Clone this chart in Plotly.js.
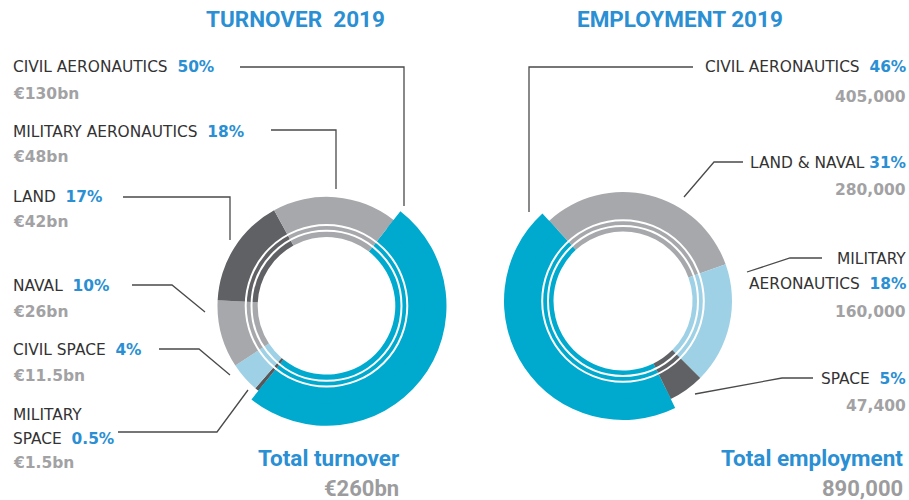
<!DOCTYPE html>
<html><head><meta charset="utf-8">
<script src="https://cdn.plot.ly/plotly-3.0.1.min.js"></script>
<style>html,body{margin:0;padding:0;background:#fff;} #chart{width:909px;height:500px;}</style>
</head><body><div id="chart"></div>
<script>
// ---------------- data ----------------
const chartTitles = ['TURNOVER\u00a0\u00a02019', 'EMPLOYMENT 2019'];

const turnoverCategories = ['CIVIL AERONAUTICS', 'MILITARY SPACE', 'CIVIL SPACE', 'NAVAL', 'LAND', 'MILITARY AERONAUTICS'];
const turnoverValues = [130, 1.5, 11.5, 26, 42, 48];               // € bn
const turnoverShares = ['50%', '0.5%', '4%', '10%', '17%', '18%'];
const turnoverValueLabels = ['€130bn', '€1.5bn', '€11.5bn', '€26bn', '€42bn', '€48bn'];
const turnoverTotalLabel = 'Total turnover';
const turnoverTotal = '€260bn';

const employmentCategories = ['CIVIL AERONAUTICS', 'LAND & NAVAL', 'MILITARY AERONAUTICS', 'SPACE'];
const employmentValues = [405000, 280000, 160000, 47400];
const employmentShares = ['46%', '31%', '18%', '5%'];
const employmentValueLabels = ['405,000', '280,000', '160,000', '47,400'];
const employmentTotalLabel = 'Total employment';
const employmentTotal = '890,000';

// ---------------- styles ----------------
const BLUE = 'rgb(0,169,206)', GRAY = 'rgb(167,168,171)', DARK = 'rgb(96,97,100)',
      LIGHTBLUE = 'rgb(158,209,229)', DARKER = 'rgb(88,88,90)';
const turnoverColors = [BLUE, DARKER, LIGHTBLUE, GRAY, DARK, GRAY];
const employmentColors = [BLUE, GRAY, LIGHTBLUE, DARK];
const TXT = '#333333', PCT = '#2a8fd3', VAL = '#a2a2a4';
const LABEL_FONT = 'DejaVu Sans, sans-serif';
const TITLE_FONT = 'Roboto, sans-serif';

const W = 909, H = 500;
const px = x => x / W, py = y => 1 - y / H;
function dom(cx, cy, r) { return {x: [px(cx - r), px(cx + r)], y: [py(cy + r), py(cy - r)]}; }

const geo = [
  {cx: 326.5, cy: 305.8, rOut: 109, rIn: 68.8, rHi: 120, rot: 38},
  {cx: 623, cy: 301, rOut: 109, rIn: 69.5, rHi: 119, rot: 154}
];
const ringRadii = [75, 80.8];

function pies(cats, vals, cols, g) {
  const base = {
    type: 'pie', labels: cats, values: vals, sort: false, direction: 'clockwise',
    rotation: g.rot, hole: g.rIn / g.rOut, domain: dom(g.cx, g.cy, g.rOut),
    marker: {colors: cols, line: {width: 0}}, textinfo: 'none', hoverinfo: 'label+value', showlegend: false
  };
  const hi = {
    type: 'pie', labels: cats, values: vals, sort: false, direction: 'clockwise',
    rotation: g.rot, hole: 98 / g.rHi, domain: dom(g.cx, g.cy, g.rHi),
    marker: {colors: cols.map((c, i) => i === 0 ? c : 'rgba(0,0,0,0)'), line: {width: 0}},
    textinfo: 'none', hoverinfo: 'skip', showlegend: false
  };
  return [base, hi];
}

const data = [
  ...pies(turnoverCategories, turnoverValues, turnoverColors, geo[0]),
  ...pies(employmentCategories, employmentValues, employmentColors, geo[1])
];

// ---------------- shapes: white rings & leader lines ----------------
const shapes = [];
geo.forEach(g => ringRadii.forEach(rr => shapes.push({
  type: 'circle', xref: 'paper', yref: 'paper',
  x0: px(g.cx - rr), x1: px(g.cx + rr), y0: py(g.cy + rr), y1: py(g.cy - rr),
  line: {color: '#ffffff', width: 2}, fillcolor: 'rgba(0,0,0,0)'
})));

const leaders = [
  [[240, 67], [404, 67], [404, 206]],
  [[271, 130], [336, 130], [336, 189]],
  [[123, 197], [230, 197], [230, 240]],
  [[132, 285], [172, 285], [205, 312]],
  [[159, 349], [199, 349], [230, 375]],
  [[118, 432], [217, 432], [248, 390]],
  [[693, 67], [529, 67], [529, 212]],
  [[743, 162], [714, 162], [684, 197]],
  [[822, 258], [790, 258], [747, 272]],
  [[813, 378], [782, 378], [695, 394]]
];
leaders.forEach(pts => shapes.push({
  type: 'path', xref: 'paper', yref: 'paper',
  path: pts.map((p, i) => (i ? 'L' : 'M') + px(p[0]) + ',' + py(p[1])).join(' '),
  line: {color: '#4a4a4a', width: 1.3}
}));

// ---------------- annotations ----------------
const annotations = [];
function ann(text, x, y, anchor, font) {
  annotations.push({text, x: px(x), y: py(y), xref: 'paper', yref: 'paper', xanchor: anchor,
    yanchor: 'middle', showarrow: false, font, borderpad: 0});
}
const labFont = {family: LABEL_FONT, size: 15.4, color: TXT};
const valFont = {family: LABEL_FONT, size: 15.5, color: VAL};
const pctHTML = s => '<span style="color:' + PCT + '"><b>' + s + '</b></span>';
const NB2 = '\u00a0\u00a0', NB1 = '\u00a0';

function labelBlock(cats, shares, valLabels, pos, x, anchor) {
  pos.forEach(p => {
    const name = cats[p.i];
    let lines;
    if (p.lines.length === 2) {
      const k = name.indexOf(' ');
      lines = [name.slice(0, k), name.slice(k + 1)];
    } else lines = [name];
    lines.forEach((ln, j) => {
      const t = j === lines.length - 1 ? ln + (p.gap || NB2) + pctHTML(shares[p.i]) : ln;
      ann(t, x, p.lines[j], anchor, labFont);
    });
    ann('<b>' + valLabels[p.i] + '</b>', x, p.val, anchor, valFont);
  });
}

labelBlock(turnoverCategories, turnoverShares, turnoverValueLabels, [
  {i: 0, lines: [67], val: 93.5},
  {i: 5, lines: [131.5], val: 157.5},
  {i: 4, lines: [196.5], val: 222},
  {i: 3, lines: [286], val: 312},
  {i: 2, lines: [350], val: 376},
  {i: 1, lines: [415, 438.5], val: 463}
], 12, 'left');

labelBlock(employmentCategories, employmentShares, employmentValueLabels, [
  {i: 0, lines: [67], val: 97},
  {i: 1, lines: [163.5], val: 190, gap: NB1},
  {i: 2, lines: [258.5, 283.5], val: 312},
  {i: 3, lines: [378.5], val: 406}
], 907, 'right');

ann('<b>' + chartTitles[0] + '</b>', 295.5, 19, 'center', {family: TITLE_FONT, size: 22.5, color: PCT});
ann('<b>' + chartTitles[1] + '</b>', 679.5, 19, 'center', {family: TITLE_FONT, size: 22.5, color: PCT});
ann('<b>' + turnoverTotalLabel + '</b>', 400, 458, 'right', {family: TITLE_FONT, size: 22.5, color: PCT});
ann('<b>' + turnoverTotal + '</b>', 400, 488, 'right', {family: TITLE_FONT, size: 22, color: '#9c9c9e'});
ann('<b>' + employmentTotalLabel + '</b>', 904, 458, 'right', {family: TITLE_FONT, size: 22.5, color: PCT});
ann('<b>' + employmentTotal + '</b>', 904, 488, 'right', {family: TITLE_FONT, size: 22, color: '#9c9c9e'});

const layout = {
  width: W, height: H, margin: {l: 0, r: 0, t: 0, b: 0},
  paper_bgcolor: '#ffffff', plot_bgcolor: '#ffffff',
  showlegend: false, shapes, annotations
};
Plotly.newPlot('chart', data, layout, {displayModeBar: false, staticPlot: true});
</script></body></html>
